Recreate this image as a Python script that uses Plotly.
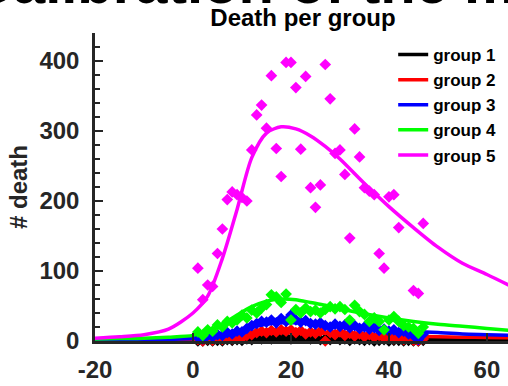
import plotly.graph_objects as go

# ---------------- data ----------------
days = list(range(1, 48))

group1 = [0, 0, 1, 0, 1, 0, 2, 1, 2, 1, 3, 2, 4, 3, 5, 3, 6, 4, 5, 3, 6, 4, 5, 3,
          4, 2, 3, 2, 4, 2, 3, 1, 3, 2, 1, 2, 0, 1, 2, 0, 1, 1, 0, 1, 0, 0, 1]
group2 = [2, 0, 3, 1, 4, 2, 5, 3, 6, 4, 8, 9, 12, 14, 12, 15, 13, 16, 14, 16, 12, 15, 10, 13,
          11, 14, 0, 12, 9, 13, 8, 11, 7, 10, 6, 9, 5, 8, 4, 7, 3, 6, 2, 4, 1, 0, 3]
group3 = [5, 3, 8, 6, 9, 8, 12, 10, 14, 13, 18, 22, 25, 28, 27, 30, 26, 32, 28, 37, 30, 27, 29, 25,
          24, 26, 22, 20, 24, 21, 23, 19, 22, 18, 20, 17, 19, 15, 17, 14, 16, 12, 14, 10, 8, 2, 10]
group4 = [13, 8, 16, 14, 23, 20, 28, 26, 30, 37, 33, 44, 40, 47, 52, 66, 63, 55, 67, 30, 45, 40, 47, 42,
          44, 40, 45, 49, 46, 49, 45, 30, 51, 42, 38, 28, 33, 28, 16, 30, 35, 28, 22, 20, 18, 11, 20]

g5_days = [1, 2, 3, 4, 5, 6, 7, 8, 9, 10, 11, 12, 13, 14, 15, 16, 17, 18, 19, 20, 21, 22, 23, 24,
           25, 26, 27, 28, 29, 30, 31, 32, 33, 34, 35, 36, 37, 38, 39, 40, 41, 42, 45, 46, 47]
group5 = [104, 59, 80, 78, 125, 160, 202, 213, 209, 205, 200, 273, 323, 337, 304, 379, 275, 235,
          398, 398, 362, 274, 378, 219, 191, 223, 395, 346, 268, 273, 238, 147, 303, 263, 219, 214,
          209, 125, 104, 206, 209, 162, 72, 68, 168]

fit_x = [-20, -15, -10, -5, 0, 3, 6, 9, 12, 15, 18, 21, 24, 27, 30, 35, 40, 45, 50, 55, 60, 65]
fit1 = [0.1, 0.15, 0.2, 0.3, 0.5, 1, 1.5, 2.5, 3, 3.5, 4, 4, 3.8, 3.5, 3.2, 2.8, 2.5, 2.2, 2, 1.8, 1.6, 1.5]
fit2 = [0.4, 0.5, 0.7, 1, 1.5, 3, 5, 7, 9, 11, 12, 12, 11.5, 11, 10, 9, 8, 7, 6, 5.5, 5, 4.5]
fit3 = [1, 1.3, 1.7, 2.3, 3.5, 6, 10, 15, 20, 24, 26, 26, 25, 23, 21, 18, 16, 14, 12, 10, 9, 8]
fit4 = [3, 3.5, 4, 5.5, 8, 14, 24, 37, 49, 57, 60, 59, 55, 51, 46, 39, 33, 28, 24, 21, 18, 15]
fit5 = [4, 6, 9, 17, 40, 64, 118, 188, 262, 297, 306, 303, 293, 278, 260, 225, 192, 162, 134, 111, 95, 78]

x_ticks = [-20, 0, 20, 40, 60]
x_ticktext = ["-20", "0", "20", "40", "60"]
y_ticks = [0, 100, 200, 300, 400]

names = ["group 1", "group 2", "group 3", "group 4", "group 5"]
colors = ["#000000", "#ff0000", "#0000ff", "#00ff00", "#ff00ff"]

FONT = "Liberation Sans, Arial, Helvetica, sans-serif"
AXC = "#262626"

fig = go.Figure()

data_x = [days, days, days, days, g5_days]
data_y = [group1, group2, group3, group4, group5]
fits = [fit1, fit2, fit3, fit4, fit5]

for i in range(5):
    fig.add_trace(go.Scatter(
        x=fit_x, y=fits[i], mode="lines", name=names[i],
        line=dict(color=colors[i], width=3.5, shape="spline", smoothing=0.8),
        showlegend=True, legendrank=i + 1,
    ))
    fig.add_trace(go.Scatter(
        x=data_x[i], y=data_y[i], mode="markers", showlegend=False,
        marker=dict(symbol="diamond", size=9, color=colors[i], line=dict(width=0)),
        cliponaxis=False,
    ))

fig.update_layout(
    width=508, height=386,
    margin=dict(l=95, r=0, t=33, b=45),
    paper_bgcolor="white", plot_bgcolor="white",
    font=dict(family=FONT, color=AXC),
    title=dict(text="<b>Death per group</b>", x=0.5036, xref="paper", xanchor="center",
               y=1 - 18 / 386, yref="container", yanchor="middle",
               font=dict(size=24, color="#000000", family=FONT)),
    legend=dict(x=0.722, y=1 - (37 - 33) / 308, xanchor="left", yanchor="top",
                bgcolor="rgba(0,0,0,0)", borderwidth=0,
                font=dict(size=17, color="#000000", family=FONT, weight="bold"),
                itemwidth=30, tracegroupgap=0),
    showlegend=True,
)

fig.update_xaxes(
    range=[-20, 64.3], showgrid=False, zeroline=False,
    showline=True, linecolor=AXC, linewidth=2.5,
    ticks="inside", ticklen=8, tickwidth=2, tickcolor=AXC,
    tickvals=x_ticks, ticktext=x_ticktext,
    tickfont=dict(size=24, color=AXC, family=FONT, weight="bold"),
    ticklabelstandoff=5,
)
fig.update_yaxes(
    range=[0, 440], showgrid=False, zeroline=False,
    showline=True, linecolor=AXC, linewidth=2.5,
    ticks="inside", ticklen=8, tickwidth=2, tickcolor=AXC,
    tickvals=y_ticks,
    minor=dict(ticks="inside", ticklen=5, tickwidth=2, tickcolor=AXC, dtick=20, showgrid=False),
    tickfont=dict(size=24, color=AXC, family=FONT, weight="bold"),
    ticklabelstandoff=8,
    title=dict(text="<b># death</b>", font=dict(size=24, color=AXC, family=FONT), standoff=6),
)

fig.add_annotation(
    text="<b>Calibration of the model</b>", xref="paper", yref="paper",
    x=0.5036, y=1 + (33 + 18) / 308, xanchor="center", yanchor="middle",
    showarrow=False, font=dict(size=58, color="#000000", family=FONT),
)

fig.write_html("out.html")
